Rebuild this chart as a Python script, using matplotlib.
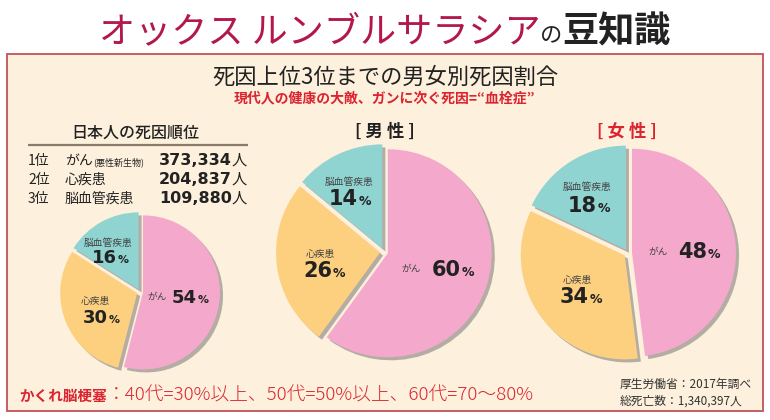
import matplotlib
matplotlib.use('Agg')
import matplotlib.pyplot as plt
import matplotlib.patheffects as pe
from matplotlib.patches import Rectangle

plt.rcParams['font.family'] = ['Noto Sans CJK JP', 'DejaVu Sans']

# ---------------- data ----------------
title_brand = 'オックス ルンブルサラシア'
title_no = 'の'
title_tail = '豆知識'
heading = '死因上位3位までの男女別死因割合'
subheading = '現代人の健康の大敵、ガンに次ぐ死因=“血栓症”'
causes = ['がん', '心疾患', '脳血管疾患']
all_pct = [54, 30, 16]
male_pct = [60, 26, 14]
female_pct = [48, 34, 18]
rank_title = '日本人の死因順位'
rank_labels = ['1位', '2位', '3位']
rank_names = ['がん', '心疾患', '脳血管疾患']
rank_notes = ['(悪性新生物)', '', '']
rank_counts = [373334, 204837, 109880]
male_label = '[ 男 性 ]'
female_label = '[ 女 性 ]'
note_head = 'かくれ脳梗塞'
note_body = '：40代=30%以上、50代=50%以上、60代=70〜80%'
source_lines = ['厚生労働省：2017年調べ', '総死亡数：1,340,397人']

# ---------------- style ----------------
colors = ['#f4a8cb', '#fdd07f', '#90d4d2']
crimson = '#b3184b'
red = '#dc2430'
cream = '#fdf0dc'
border = '#c2525c'
dark = '#222222'
label_gray = '#444444'

W, H = 770, 420
fig = plt.figure(figsize=(W / 100, H / 100), dpi=100)
fig.patch.set_facecolor('white')
ax = fig.add_axes([0, 0, 1, 1])
ax.set_axis_off()

renderer = fig.canvas.get_renderer()


def set_limits():
    ax.set_xlim(0, W)
    ax.set_ylim(H, 0)


set_limits()


def width_of(t):
    return t.get_window_extent(renderer=renderer).width


def text_run(x, y, parts, align='left'):
    """parts: list of (string, kwargs). Placed left to right on a shared baseline."""
    objs = []
    for s, kw in parts:
        objs.append(ax.text(0, y, s, va='baseline', ha='left', **kw))
    widths = [width_of(o) for o in objs]
    total = sum(widths)
    if align == 'center':
        x = x - total / 2
    cur = x
    for o, w in zip(objs, widths):
        o.set_x(cur)
        cur += w
    return objs


# box
ax.add_patch(Rectangle((7, 54), 756, 357, facecolor=cream, edgecolor=border,
                       linewidth=1.3, zorder=0))

# title
text_run(385, 42, [
    (title_brand, dict(fontsize=26, color=crimson, fontweight='normal')),
    (title_no, dict(fontsize=16, color=dark)),
    (title_tail, dict(fontsize=26, color=dark, fontweight='bold')),
], align='center')

# headings
ax.text(385, 77, heading, ha='center', va='center', fontsize=16, color=dark)
ax.text(385, 98, subheading, ha='center', va='center', fontsize=10,
        color=red, fontweight='bold')

# rank table
ax.text(135, 133, rank_title, ha='center', va='center', fontsize=11.5,
        color=dark, fontweight='medium')
ax.plot([28, 248], [145, 145], color='#8c7b6b', lw=1.6, solid_capstyle='butt')
row_y = [165, 184, 203]
for lab, name, note, cnt, y in zip(rank_labels, rank_names, rank_notes,
                                   rank_counts, row_y):
    ax.text(28, y, lab, ha='left', va='baseline', fontsize=10, color=dark)
    parts = [(name, dict(fontsize=10, color=dark))]
    if note:
        parts.append((note, dict(fontsize=6.5, color=dark)))
    text_run(65, y, parts)
    ax.text(232, y, f'{cnt:,}', ha='right', va='baseline', fontsize=11.5,
            color=dark, fontweight='bold', family='DejaVu Sans')
    ax.text(232, y, '人', ha='left', va='baseline', fontsize=11, color=dark)

# pies
shadow = [pe.SimplePatchShadow(offset=(2.2, -2.2), shadow_rgbFace='#777777',
                               alpha=0.55), pe.Normal()]


def draw_pie(vals, cx, cy, r, gap):
    wedges, _ = ax.pie(vals, colors=colors, startangle=-90, counterclock=True,
                       radius=r, center=(cx, cy), explode=[gap] * len(vals),
                       wedgeprops=dict(linewidth=0))
    for w in wedges:
        w.set_path_effects(shadow)
    set_limits()


def pie_labels(specs, vals, num_size, lab_size=7):
    # specs: per slice (label_xy, split_x, baseline_y)
    for ((lx, ly), sx, by), cause, v in zip(specs, causes, vals):
        ax.text(lx, ly, cause, ha='center', va='center', fontsize=lab_size,
                color=label_gray)
        ax.text(sx, by, str(v), ha='right', va='baseline', fontsize=num_size,
                color=dark, fontweight='heavy', family='DejaVu Sans')
        ax.text(sx + 0.8, by, '%', ha='left', va='baseline',
                fontsize=num_size * 0.6, color=dark, fontweight='bold',
                family='DejaVu Sans')


draw_pie(all_pct, 140, 292, 77, 3)
pie_labels([
    ((157, 297), 197, 303),
    ((95, 301), 108, 323),
    ((108, 243), 117, 263),
], all_pct, 13)

draw_pie(male_pct, 384, 252, 104, 4)
pie_labels([
    ((411, 269), 461, 276),
    ((320, 254), 332, 277),
    ((349, 182), 358, 205),
], male_pct, 15)
ax.text(385, 132, male_label, ha='center', va='center', fontsize=12.5,
        color=dark, fontweight='bold')

draw_pie(female_pct, 628, 253, 104, 4)
pie_labels([
    ((658, 252), 707, 258),
    ((577, 280), 589, 303),
    ((587, 187), 597, 212),
], female_pct, 15)
ax.text(627, 132, female_label, ha='center', va='center', fontsize=12.5,
        color=red, fontweight='bold')

# bottom note
text_run(19, 401, [
    (note_head, dict(fontsize=10.5, color=red, fontweight='bold')),
    (note_body, dict(fontsize=13.5, color=red, fontweight='light')),
])
ax.text(620, 384, source_lines[0], ha='left', va='center', fontsize=8.5,
        color='#333333')
ax.text(620, 401, source_lines[1], ha='left', va='center', fontsize=8.5,
        color='#333333')

set_limits()
fig.savefig('out.png', dpi=100, facecolor='white')
